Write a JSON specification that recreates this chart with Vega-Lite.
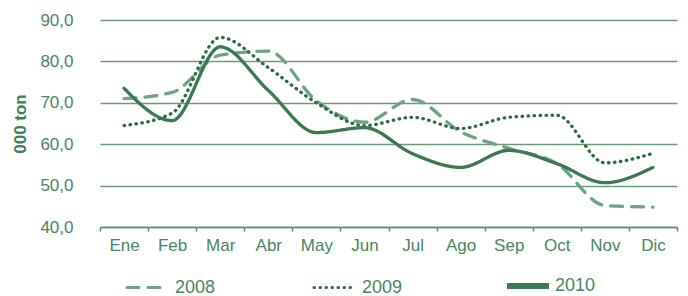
{
  "$schema": "https://vega.github.io/schema/vega-lite/v6.json",
  "width": 588,
  "height": 207,
  "autosize": {"type": "none"},
  "padding": {"left": 100, "top": 20, "right": 0, "bottom": 69},
  "background": "white",
  "config": {
    "view": {"stroke": null},
    "font": "Liberation Sans"
  },
  "data": {
    "values": [
      {"mes": "Ene", "anio": "2008", "v": 71.0},
      {"mes": "Feb", "anio": "2008", "v": 72.5},
      {"mes": "Mar", "anio": "2008", "v": 81.5},
      {"mes": "Abr", "anio": "2008", "v": 82.5},
      {"mes": "May", "anio": "2008", "v": 70.5},
      {"mes": "Jun", "anio": "2008", "v": 65.3},
      {"mes": "Jul", "anio": "2008", "v": 70.8},
      {"mes": "Ago", "anio": "2008", "v": 63.0},
      {"mes": "Sep", "anio": "2008", "v": 59.0},
      {"mes": "Oct", "anio": "2008", "v": 55.3},
      {"mes": "Nov", "anio": "2008", "v": 45.2},
      {"mes": "Dic", "anio": "2008", "v": 44.8},
      {"mes": "Ene", "anio": "2009", "v": 64.5},
      {"mes": "Feb", "anio": "2009", "v": 67.5},
      {"mes": "Mar", "anio": "2009", "v": 85.8},
      {"mes": "Abr", "anio": "2009", "v": 78.5},
      {"mes": "May", "anio": "2009", "v": 70.0},
      {"mes": "Jun", "anio": "2009", "v": 64.5},
      {"mes": "Jul", "anio": "2009", "v": 66.5},
      {"mes": "Ago", "anio": "2009", "v": 63.8},
      {"mes": "Sep", "anio": "2009", "v": 66.5},
      {"mes": "Oct", "anio": "2009", "v": 67.0},
      {"mes": "Nov", "anio": "2009", "v": 55.5},
      {"mes": "Dic", "anio": "2009", "v": 57.8},
      {"mes": "Ene", "anio": "2010", "v": 73.5},
      {"mes": "Feb", "anio": "2010", "v": 65.7},
      {"mes": "Mar", "anio": "2010", "v": 83.5},
      {"mes": "Abr", "anio": "2010", "v": 73.0},
      {"mes": "May", "anio": "2010", "v": 62.8},
      {"mes": "Jun", "anio": "2010", "v": 64.0},
      {"mes": "Jul", "anio": "2010", "v": 57.7},
      {"mes": "Ago", "anio": "2010", "v": 54.4},
      {"mes": "Sep", "anio": "2010", "v": 58.5},
      {"mes": "Oct", "anio": "2010", "v": 55.3},
      {"mes": "Nov", "anio": "2010", "v": 50.7},
      {"mes": "Dic", "anio": "2010", "v": 54.4}
    ]
  },
  "mark": {"type": "line", "interpolate": "monotone", "strokeCap": "round", "strokeWidth": 3.3},
  "encoding": {
    "x": {
      "field": "mes",
      "type": "nominal",
      "sort": ["Ene","Feb","Mar","Abr","May","Jun","Jul","Ago","Sep","Oct","Nov","Dic"],
      "scale": {"type": "band", "range": [0, 577], "paddingInner": 0, "paddingOuter": 0},
      "bandPosition": 0.5,
      "axis": {
        "title": null,
        "labelAngle": 0,
        "labelFontSize": 17,
        "labelColor": "#4a8562",
        "labelPadding": 6,
        "tickBand": "extent",
        "tickSize": 4,
        "tickColor": "#5f8f6f",
        "tickWidth": 1.5,
        "domainColor": "#5f8f6f",
        "domainWidth": 1.5,
        "grid": false
      }
    },
    "y": {
      "field": "v",
      "type": "quantitative",
      "scale": {"domain": [40, 90], "zero": false, "nice": false},
      "axis": {
        "title": "000 ton",
        "titleFontSize": 17,
        "titleFontWeight": "bold",
        "titleColor": "#3f8058",
        "titlePadding": 10,
        "values": [40, 50, 60, 70, 80, 90],
        "labelExpr": "replace(format(datum.value, '.1f'), '.', ',')",
        "labelFontSize": 17,
        "labelColor": "#4a8562",
        "labelPadding": 27,
        "ticks": false,
        "domain": false,
        "grid": true,
        "gridColor": "#6b9a7a",
        "gridWidth": 1.5
      }
    },
    "color": {
      "field": "anio",
      "type": "nominal",
      "scale": {"domain": ["2008", "2009", "2010"], "range": ["#6ea383", "#2e6b44", "#3a7a52"]},
      "legend": {
        "title": null,
        "orient": "none",
        "legendX": 39,
        "legendY": 257,
        "direction": "horizontal",
        "columns": 3,
        "columnPadding": 92,
        "labelFontSize": 18,
        "labelColor": "#4a8562",
        "labelOffset": 18,
        "symbolType": "stroke",
        "symbolSize": 1764,
        "symbolStrokeWidth": 3,
        "encode": {
          "symbols": {"update": {
            "strokeWidth": {"signal": "datum.value === '2010' ? 6 : 3"},
            "strokeCap": {"signal": "datum.value === '2010' ? 'butt' : 'round'"}
          }}
        }
      }
    },
    "strokeDash": {
      "field": "anio",
      "type": "nominal",
      "scale": {"domain": ["2008", "2009", "2010"], "range": [[12, 9], [0.5, 5.5], [1, 0]]}
    }
  }
}
